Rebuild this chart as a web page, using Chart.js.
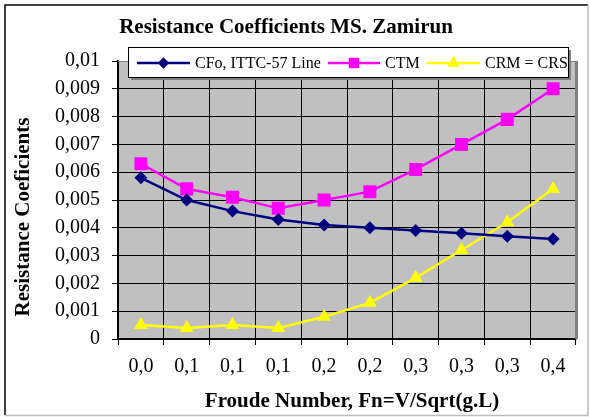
<!DOCTYPE html>
<html><head><meta charset="utf-8">
<script src="https://cdn.jsdelivr.net/npm/chart.js@4/dist/chart.umd.min.js"></script>
<style>html,body{margin:0;padding:0;background:#fff}#wrap{width:590px;height:417px;position:relative}</style>
</head><body><div id="wrap"><canvas id="c" width="590" height="417"></canvas></div>
<script>
const categories = ['0,0','0,1','0,1','0,1','0,2','0,2','0,3','0,3','0,3','0,4'];
const cfo = [0.0058,0.0050,0.0046,0.0043,0.0041,0.0040,0.0039,0.0038,0.0037,0.0036];
const ctm = [0.0063,0.0054,0.0051,0.0047,0.0050,0.0053,0.0061,0.0070,0.0079,0.0090];
const crm = [0.0005,0.0004,0.0005,0.0004,0.0008,0.0013,0.0022,0.0032,0.0042,0.0054];
const yTickLabels = ['0','0,001','0,002','0,003','0,004','0,005','0,006','0,007','0,008','0,009','0,01'];
const seriesNames = ['CFo, ITTC-57 Line','CTM','CRM = CRS'];
const titleText = 'Resistance Coefficients MS. Zamirun';
const xTitle = 'Froude Number, Fn=V/Sqrt(g.L)';
const yTitle = 'Resistance Coeficients';

const SERIF = "'Liberation Serif','Times New Roman',serif";

const deco = {
  id: 'deco',
  beforeDraw(chart) {
    const {ctx, chartArea: a} = chart;
    ctx.save();
    ctx.fillStyle = '#fff';
    ctx.fillRect(0,0,chart.width,chart.height);
    ctx.strokeStyle = '#000';
    ctx.lineWidth = 1.5;
    ctx.beginPath(); ctx.moveTo(5,415); ctx.lineTo(5,5); ctx.lineTo(588,5); ctx.stroke();
    ctx.strokeStyle = '#bbb';
    ctx.beginPath(); ctx.moveTo(5,415.5); ctx.lineTo(588,415.5); ctx.lineTo(588,5); ctx.stroke();
    ctx.fillStyle = '#C0C0C0';
    ctx.fillRect(a.left, a.top, a.right - a.left, a.bottom - a.top);
    ctx.restore();
  },
  beforeDatasetsDraw(chart) {
    const {ctx, chartArea: a} = chart;
    ctx.save();
    ctx.strokeStyle = '#808080';
    ctx.lineWidth = 1;
    ctx.beginPath(); ctx.moveTo(a.left, a.top + 0.5); ctx.lineTo(a.right, a.top + 0.5); ctx.stroke();
    ctx.lineWidth = 3;
    ctx.beginPath(); ctx.moveTo(a.right + 0.5, a.top); ctx.lineTo(a.right + 0.5, a.bottom); ctx.stroke();
    ctx.restore();
  },
  afterDraw(chart) {
    const {ctx} = chart;
    ctx.save();
    ctx.fillStyle = '#000';
    ctx.textAlign = 'center';
    ctx.textBaseline = 'middle';
    ctx.font = "bold 21px " + SERIF;
    ctx.fillText(titleText, 286, 28);
    ctx.font = "bold 21px " + SERIF;
    ctx.fillText(xTitle, 352, 402);
    ctx.save();
    ctx.translate(24, 217);
    ctx.rotate(-Math.PI/2);
    ctx.fillText(yTitle, 0, 0);
    ctx.restore();

    const lx = 128, ly = 47, lw = 440, lh = 30;
    ctx.fillStyle = '#808080';
    ctx.fillRect(lx + 3, ly + 3, lw, lh);
    ctx.fillStyle = '#fff';
    ctx.fillRect(lx, ly, lw, lh);
    ctx.strokeStyle = '#000';
    ctx.lineWidth = 1;
    ctx.strokeRect(lx + 0.5, ly + 0.5, lw, lh);
    const items = [
      {x0:137, x1:190, tx:195},
      {x0:328, x1:380, tx:385},
      {x0:427, x1:480, tx:485}
    ];
    const cy = ly + 16;
    ctx.font = "16px " + SERIF;
    ctx.textAlign = 'left';
    chart.data.datasets.forEach((ds, i) => {
      const it = items[i];
      ctx.strokeStyle = ds.borderColor;
      ctx.lineWidth = 2.5;
      ctx.beginPath(); ctx.moveTo(it.x0, cy); ctx.lineTo(it.x1, cy); ctx.stroke();
      Chart.helpers.drawPoint(ctx, {pointStyle: ds.pointStyle, radius: ds.pointRadius * 0.6, borderWidth: 1, rotation: 0},
        (it.x0 + it.x1) / 2, cy);
      ctx.fillStyle = ds.pointBackgroundColor;
      ctx.fill();
      ctx.fillStyle = '#000';
      ctx.fillText(seriesNames[i], it.tx, cy + 1);
    });
    ctx.restore();
  }
};

const mk = (label, data, color, style, r) => ({
  label, data, borderColor: color, backgroundColor: color,
  pointBackgroundColor: color, pointBorderColor: color,
  pointStyle: style, pointRadius: r, pointHoverRadius: r, pointBorderWidth: 0,
  borderWidth: 2.5, tension: 0, fill: false
});

new Chart(document.getElementById('c'), {
  type: 'line',
  data: {
    labels: categories,
    datasets: [
      mk(seriesNames[0], cfo, '#000080', 'rectRot', 6.5),
      mk(seriesNames[1], ctm, '#FF00FF', 'rect', 9.2),
      mk(seriesNames[2], crm, '#FFFF00', 'triangle', 8)
    ]
  },
  options: {
    responsive: false,
    animation: false,
    devicePixelRatio: 1,
    layout: {padding: {left: 0, top: 61, right: 14, bottom: 0}},
    plugins: {legend: {display: false}, title: {display: false}, tooltip: {enabled: false}},
    scales: {
      x: {
        type: 'category',
        offset: true,
        grid: {offset: true, color: '#000', lineWidth: 1, tickLength: 6, drawTicks: true},
        border: {color: '#000', width: 1.5},
        ticks: {color: '#000', font: {family: SERIF, size: 20}, padding: 10, maxRotation: 0, autoSkip: false},
        afterFit(s) { s.height = 78; }
      },
      y: {
        min: 0, max: 0.01,
        grid: {color: '#000', lineWidth: 1, tickLength: 6},
        border: {color: '#000', width: 1.5},
        ticks: {stepSize: 0.001, color: '#000', font: {family: SERIF, size: 20}, padding: 12,
          callback: (v, i) => yTickLabels[i]},
        afterFit(s) { s.width = 118; }
      }
    }
  },
  plugins: [deco]
});
</script></body></html>
